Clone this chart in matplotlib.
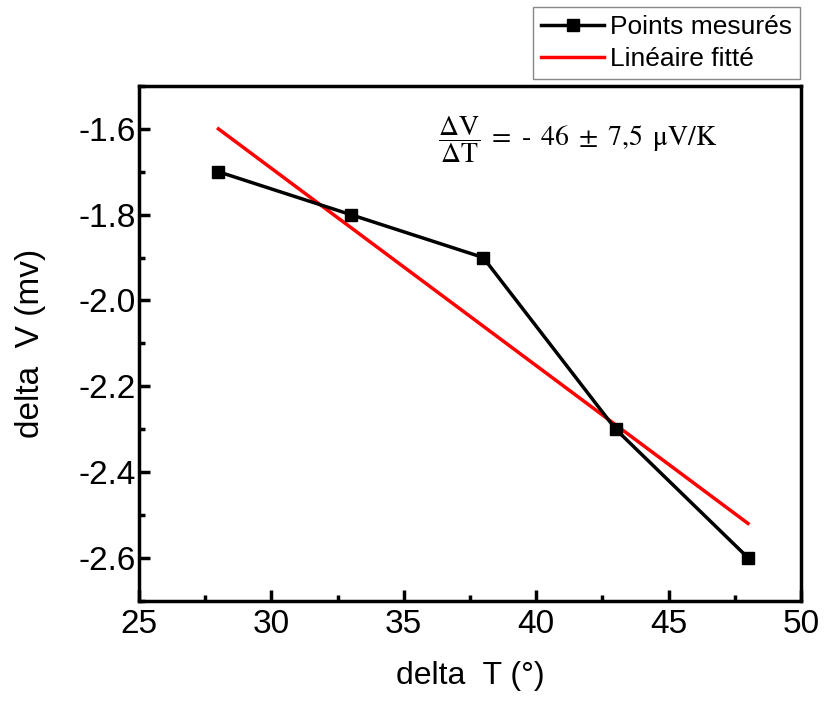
import matplotlib
matplotlib.use("Agg")
import matplotlib.pyplot as plt
from matplotlib.ticker import MultipleLocator, FormatStrFormatter

plt.rcParams['font.family'] = ['Liberation Sans', 'DejaVu Sans']
plt.rcParams['mathtext.fontset'] = 'stix'

# data
delta_T = [28, 33, 38, 43, 48]
delta_V = [-1.7, -1.8, -1.9, -2.3, -2.6]
fit_T = [28, 48]
fit_V = [-1.60, -2.52]

fig = plt.figure(figsize=(8.24, 7.02), dpi=100)
ax = fig.add_axes([0.1687, 0.1444, 0.8033, 0.7331])

ax.plot(delta_T, delta_V, color='black', lw=2.5, marker='s', ms=9,
        label='Points mesurés', zorder=3)
ax.plot(fit_T, fit_V, color='#ff0000', lw=2.5, label='Linéaire fitté', zorder=2)

ax.set_xlim(25, 50)
ax.set_ylim(-2.7, -1.5)
ax.xaxis.set_major_locator(MultipleLocator(5))
ax.xaxis.set_minor_locator(MultipleLocator(2.5))
ax.yaxis.set_major_locator(MultipleLocator(0.2))
ax.yaxis.set_minor_locator(MultipleLocator(0.1))
ax.yaxis.set_major_formatter(FormatStrFormatter('%.1f'))

for s in ax.spines.values():
    s.set_linewidth(2.5)
ax.tick_params(which='both', direction='in', width=2.5, labelsize=24,
               top=False, right=False)
ax.tick_params(axis='x', pad=6)
ax.tick_params(axis='y', pad=2)
ax.tick_params(which='major', length=8)
ax.tick_params(which='minor', length=4)

ax.set_xlabel('delta  T (°)', fontsize=23, labelpad=15)
ax.set_ylabel('delta  V (mv)', fontsize=24, labelpad=24)

sp = r' $\,$'
ax.text(0.452, 0.895,
        r'$\dfrac{\Delta\mathrm{V}}{\Delta\mathrm{T}}$' + sp + '=' + sp + '-' + sp
        + '46' + sp + '±' + sp + '7,5' + sp + 'μV/K',
        transform=ax.transAxes, fontsize=20, family=['STIXGeneral', 'DejaVu Serif'],
        va='center', ha='left')

leg = fig.legend(loc='upper left', bbox_to_anchor=(0.647, 0.99),
                 bbox_transform=fig.transFigure, fontsize=19,
                 frameon=True, fancybox=False, edgecolor='#888888',
                 framealpha=1, handlelength=2.4, handletextpad=0.2,
                 borderpad=0.3, labelspacing=0.3, borderaxespad=0)
leg.get_frame().set_linewidth(1)

fig.savefig('out.png', dpi=100)
